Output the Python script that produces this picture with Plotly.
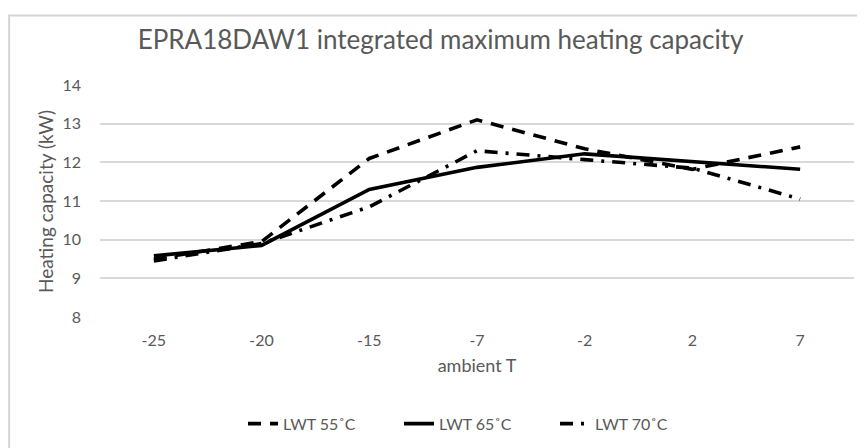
import plotly.graph_objects as go

categories = ["-25", "-20", "-15", "-7", "-2", "2", "7"]
lwt55 = [9.50, 9.95, 12.10, 13.10, 12.35, 11.82, 12.40]
lwt65 = [9.58, 9.85, 11.30, 11.87, 12.22, 12.03, 11.82]
lwt70 = [9.45, 9.90, 10.85, 12.30, 12.07, 11.85, 11.05]
series_names = ["LWT 55˚C", "LWT 65˚C", "LWT 70˚C"]
y_ticks = [8, 9, 10, 11, 12, 13, 14]

FONT = "Lato"
GREY = "#595959"

fig = go.Figure()
styles = ["13px,9px", "solid", "13px,8px,3px,8px"]
for name, vals, dash in zip(series_names, [lwt55, lwt65, lwt70], styles):
    fig.add_trace(go.Scatter(
        x=categories, y=vals, name=name, mode="lines",
        line=dict(color="black", width=3.6, dash=dash),
    ))

fig.update_layout(
    width=865, height=448,
    margin=dict(l=92, r=19, t=77, b=139, autoexpand=False),
    paper_bgcolor="white", plot_bgcolor="white",
    font=dict(family=FONT, color=GREY, size=16),
    title=dict(text="EPRA18DAW1 integrated maximum heating capacity",
               x=0.5, xanchor="center", y=0.929, yanchor="middle",
               font=dict(family=FONT, size=26, color=GREY)),
    xaxis=dict(type="category", range=[-0.5, 6.5], showgrid=False, zeroline=False,
               showline=False, ticks="", tickfont=dict(size=16, color=GREY),
               ticklabelstandoff=12, automargin=False,
               title=dict(text="ambient T", font=dict(size=18, color=GREY), standoff=11)),
    yaxis=dict(range=[8, 14], tickvals=y_ticks, showgrid=True, gridcolor="#d9d9d9",
               gridwidth=1.5, zeroline=False, showline=False, ticks="",
               tickfont=dict(size=16, color=GREY), ticklabelstandoff=18, automargin=False),
    legend=dict(orientation="h", x=0.5, xanchor="center", y=-0.46, yanchor="middle",
                font=dict(size=16, color=GREY), entrywidth=111, entrywidthmode="pixels",
                traceorder="normal"),
    showlegend=True,
    annotations=[dict(text="Heating capacity (kW)", textangle=-90, xref="paper", yref="paper",
                      x=-0.073, y=0.5, xanchor="center", yanchor="middle", showarrow=False,
                      font=dict(size=19, color=GREY))],
    shapes=[dict(type="rect", xref="paper", yref="paper",
                 x0=-0.1205, x1=1.1, y0=-0.7, y1=1.3,
                 line=dict(color="#d4d4d4", width=2), fillcolor="rgba(0,0,0,0)", layer="below")],
)

fig.write_html("out.html")
